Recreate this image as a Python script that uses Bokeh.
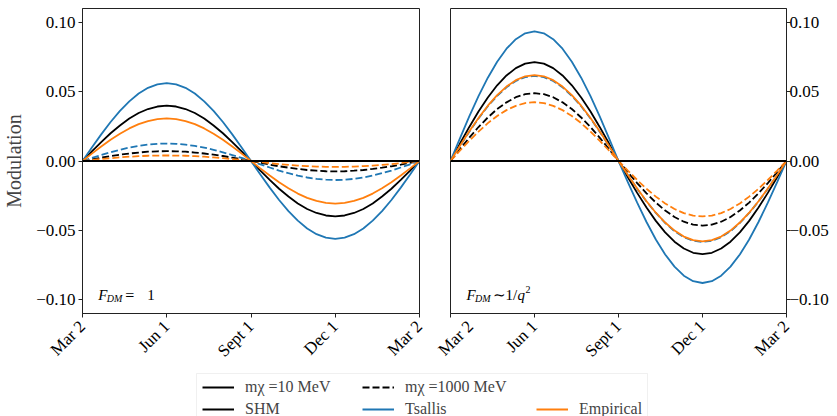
from bokeh.plotting import figure
from bokeh.models import (Range1d, FixedTicker, CustomJSTickFormatter, Span, Label,
                          Legend, LegendItem, BoxAnnotation)
from bokeh.layouts import column, row
from bokeh.embed import file_html
from bokeh.resources import INLINE

# ---------------- data ----------------
days = [0, 10.14, 20.28, 30.42, 40.56, 50.69, 60.83, 70.97, 81.11, 91.25, 101.39, 111.53,
        121.67, 131.81, 141.94, 152.08, 162.22, 172.36, 182.5, 192.64, 202.78, 212.92,
        223.06, 233.19, 243.33, 253.47, 263.61, 273.75, 283.89, 294.03, 304.17, 314.31,
        324.44, 334.58, 344.72, 354.86, 365]
tick_days = [0, 91.25, 182.5, 273.75, 365]
tick_labels = ["Mar 2", "Jun 1", "Sept 1", "Dec 1", "Mar 2"]
y_ticks = [-0.10, -0.05, 0.0, 0.05, 0.10]
zero_level = 0.0

# left panel: F_DM = 1
l_shm_10 = [0, 0.0069, 0.0136, 0.0200, 0.0256, 0.0306, 0.0346, 0.0375, 0.0393, 0.0399, 0.0393, 0.0375,
            0.0346, 0.0306, 0.0256, 0.0200, 0.0136, 0.0069, 0, -0.0069, -0.0136, -0.0200, -0.0256, -0.0306,
            -0.0346, -0.0375, -0.0393, -0.0399, -0.0393, -0.0375, -0.0346, -0.0306, -0.0256, -0.0200,
            -0.0136, -0.0069, 0]
l_tsa_10 = [0, 0.0098, 0.0192, 0.0281, 0.0361, 0.0430, 0.0487, 0.0528, 0.0553, 0.0562, 0.0553, 0.0528,
            0.0487, 0.0430, 0.0361, 0.0281, 0.0192, 0.0098, 0, -0.0098, -0.0192, -0.0281, -0.0361, -0.0430,
            -0.0487, -0.0528, -0.0553, -0.0562, -0.0553, -0.0528, -0.0487, -0.0430, -0.0361, -0.0281,
            -0.0192, -0.0098, 0]
l_emp_10 = [0, 0.0053, 0.0105, 0.0154, 0.0197, 0.0235, 0.0266, 0.0288, 0.0302, 0.0307, 0.0302, 0.0288,
            0.0266, 0.0235, 0.0197, 0.0154, 0.0105, 0.0053, 0, -0.0053, -0.0105, -0.0154, -0.0197, -0.0235,
            -0.0266, -0.0288, -0.0302, -0.0307, -0.0302, -0.0288, -0.0266, -0.0235, -0.0197, -0.0154,
            -0.0105, -0.0053, 0]
l_shm_1000 = [0, 0.0012, 0.0024, 0.0036, 0.0046, 0.0054, 0.0061, 0.0067, 0.0070, 0.0071, 0.0070, 0.0067,
              0.0061, 0.0054, 0.0046, 0.0036, 0.0024, 0.0012, 0, -0.0013, -0.0026, -0.0038, -0.0048, -0.0057,
              -0.0065, -0.0070, -0.0074, -0.0075, -0.0074, -0.0070, -0.0065, -0.0057, -0.0048, -0.0038,
              -0.0026, -0.0013, 0]
l_tsa_1000 = [0, 0.0022, 0.0043, 0.0063, 0.0081, 0.0097, 0.0109, 0.0118, 0.0124, 0.0126, 0.0124, 0.0118,
              0.0109, 0.0097, 0.0081, 0.0063, 0.0043, 0.0022, 0, -0.0024, -0.0047, -0.0069, -0.0088, -0.0105,
              -0.0119, -0.0129, -0.0135, -0.0137, -0.0135, -0.0129, -0.0119, -0.0105, -0.0088, -0.0069,
              -0.0047, -0.0024, 0]
l_emp_1000 = [0, 0.0007, 0.0014, 0.0020, 0.0026, 0.0031, 0.0035, 0.0038, 0.0039, 0.0040, 0.0039, 0.0038,
              0.0035, 0.0031, 0.0026, 0.0020, 0.0014, 0.0007, 0, -0.0007, -0.0015, -0.0022, -0.0028, -0.0033,
              -0.0037, -0.0040, -0.0042, -0.0043, -0.0042, -0.0040, -0.0037, -0.0033, -0.0028, -0.0022,
              -0.0015, -0.0007, 0]

# right panel: F_DM ~ 1/q^2
r_shm_10 = [0, 0.0124, 0.0244, 0.0357, 0.0458, 0.0546, 0.0617, 0.0670, 0.0702, 0.0713, 0.0702, 0.0670,
            0.0617, 0.0546, 0.0458, 0.0357, 0.0244, 0.0124, 0, -0.0117, -0.0230, -0.0336, -0.0432, -0.0515,
            -0.0582, -0.0631, -0.0662, -0.0672, -0.0662, -0.0631, -0.0582, -0.0515, -0.0432, -0.0336,
            -0.0230, -0.0117, 0]
r_tsa_10 = [0, 0.0162, 0.0320, 0.0468, 0.0601, 0.0716, 0.0810, 0.0879, 0.0921, 0.0935, 0.0921, 0.0879,
            0.0810, 0.0716, 0.0601, 0.0468, 0.0320, 0.0162, 0, -0.0153, -0.0301, -0.0440, -0.0566, -0.0674,
            -0.0762, -0.0827, -0.0867, -0.0880, -0.0867, -0.0827, -0.0762, -0.0674, -0.0566, -0.0440,
            -0.0301, -0.0153, 0]
r_emp_10 = [0, 0.0108, 0.0212, 0.0310, 0.0399, 0.0475, 0.0537, 0.0583, 0.0611, 0.0620, 0.0611, 0.0583,
            0.0537, 0.0475, 0.0399, 0.0310, 0.0212, 0.0108, 0, -0.0101, -0.0198, -0.0290, -0.0373, -0.0444,
            -0.0502, -0.0545, -0.0571, -0.0580, -0.0571, -0.0545, -0.0502, -0.0444, -0.0373, -0.0290,
            -0.0198, -0.0101, 0]
r_shm_1000 = [0, 0.0085, 0.0167, 0.0245, 0.0314, 0.0375, 0.0423, 0.0460, 0.0482, 0.0489, 0.0482, 0.0460,
              0.0423, 0.0375, 0.0314, 0.0245, 0.0167, 0.0085, 0, -0.0081, -0.0159, -0.0233, -0.0300, -0.0357,
              -0.0404, -0.0438, -0.0459, -0.0466, -0.0459, -0.0438, -0.0404, -0.0357, -0.0300, -0.0233,
              -0.0159, -0.0081, 0]
r_tsa_1000 = [0, 0.0107, 0.0210, 0.0307, 0.0395, 0.0470, 0.0532, 0.0577, 0.0605, 0.0614, 0.0605, 0.0577,
              0.0532, 0.0470, 0.0395, 0.0307, 0.0210, 0.0107, 0, -0.0101, -0.0200, -0.0292, -0.0375, -0.0447,
              -0.0506, -0.0549, -0.0575, -0.0584, -0.0575, -0.0549, -0.0506, -0.0447, -0.0375, -0.0292,
              -0.0200, -0.0101, 0]
r_emp_1000 = [0, 0.0074, 0.0145, 0.0212, 0.0273, 0.0325, 0.0367, 0.0398, 0.0418, 0.0424, 0.0418, 0.0398,
              0.0367, 0.0325, 0.0273, 0.0212, 0.0145, 0.0074, 0, -0.0069, -0.0137, -0.0200, -0.0257, -0.0306,
              -0.0346, -0.0376, -0.0394, -0.0400, -0.0394, -0.0376, -0.0346, -0.0306, -0.0257, -0.0200,
              -0.0137, -0.0069, 0]

models = ["SHM", "Tsallis", "Empirical"]
mass_labels = ["m\u03c7 =10 MeV", "m\u03c7 =1000 MeV"]

# ---------------- style ----------------
FONT = "Liberation Serif"
COLORS = {"SHM": "black", "Tsallis": "#1f77b4", "Empirical": "#ff7f0e"}
LW = 1.8
DASH = "7 3"


def make_panel(solid, dashed, y_side, left_border, right_border):
    p = figure(frame_width=337 if y_side == "left" else 336, frame_height=305,
               x_range=Range1d(0, 365), y_range=Range1d(-0.11, 0.11),
               y_axis_location=y_side, toolbar_location=None, output_backend="svg",
               min_border_left=left_border, min_border_right=right_border,
               min_border_top=8, min_border_bottom=52)
    p.grid.visible = False
    p.outline_line_color = "#222222"
    p.outline_line_width = 1
    p.background_fill_color = "white"
    p.border_fill_color = "white"

    p.xaxis.ticker = FixedTicker(ticks=tick_days)
    p.xaxis.formatter = CustomJSTickFormatter(
        args=dict(pos=tick_days, labs=tick_labels),
        code="for (let i = 0; i < pos.length; i++) { if (Math.abs(pos[i] - tick) < 1e-6) return labs[i]; } return '';")
    p.xaxis.major_label_orientation = 0.785398
    p.yaxis.ticker = FixedTicker(ticks=y_ticks)
    p.yaxis.formatter = CustomJSTickFormatter(
        code="return (tick < -1e-9 ? '\\u2212' : '') + Math.abs(tick).toFixed(2);")
    for ax in p.axis:
        ax.major_label_text_font = FONT
        ax.major_label_text_font_size = "17px"
        ax.major_label_text_color = "black"
        ax.major_tick_out = 4
        ax.major_tick_in = 0
        ax.minor_tick_out = 0
        ax.minor_tick_in = 0
        ax.major_tick_line_color = "#222222"
        ax.axis_line_color = "#222222"
        ax.major_label_standoff = 3
    p.xaxis.major_label_standoff = 6
    if y_side == "right":
        p.yaxis.major_label_standoff = -1

    for m in models:
        p.line(days, dashed[m], line_color=COLORS[m], line_width=LW, line_dash=DASH)
    for m in models:
        p.line(days, solid[m], line_color=COLORS[m], line_width=LW)
    p.add_layout(Span(location=zero_level, dimension="width", line_color="black", line_width=LW))
    return p


p1 = make_panel({"SHM": l_shm_10, "Tsallis": l_tsa_10, "Empirical": l_emp_10},
                {"SHM": l_shm_1000, "Tsallis": l_tsa_1000, "Empirical": l_emp_1000},
                "left", 81, 15)
p1.yaxis.axis_label = "Modulation"
p1.yaxis.axis_label_text_font = FONT
p1.yaxis.axis_label_text_font_size = "20px"
p1.yaxis.axis_label_text_font_style = "normal"
p1.yaxis.axis_label_standoff = 8

p2 = make_panel({"SHM": r_shm_10, "Tsallis": r_tsa_10, "Empirical": r_emp_10},
                {"SHM": r_shm_1000, "Tsallis": r_tsa_1000, "Empirical": r_emp_1000},
                "right", 16, 52)


def add_text(p, x, y, text, dx=0, dy=0, size="15px", style="normal"):
    p.add_layout(Label(x=x, y=y, text=text, x_offset=dx, y_offset=dy,
                       text_font=FONT, text_font_size=size, text_font_style=style,
                       text_color="black", text_baseline="alphabetic"))


# annotations
add_text(p1, 17.0, -0.0968, "F", style="italic")
add_text(p1, 17.0, -0.0968, "DM", dx=8.5, dy=-3, size="10px", style="italic")
add_text(p1, 17.0, -0.0968, "=", dx=27, size="16px")
add_text(p1, 17.0, -0.0968, "1", dx=49)

add_text(p2, 17.5, -0.0968, "F", style="italic")
add_text(p2, 17.5, -0.0968, "DM", dx=8.5, dy=-3, size="10px", style="italic")
add_text(p2, 17.5, -0.0968, "\u223c", dx=26)
add_text(p2, 17.5, -0.0968, "1/", dx=39)
add_text(p2, 17.5, -0.0968, "q", dx=51, style="italic")
add_text(p2, 17.5, -0.0968, "2", dx=59, dy=6, size="10px")

# legend strip (frame = whole strip, data units = pixels)
p3 = figure(width=837, height=51, x_range=Range1d(0, 837), y_range=Range1d(0, 51),
            x_axis_location=None, y_axis_location=None,
            toolbar_location=None, output_backend="svg", min_border=0)
p3.grid.visible = False
p3.outline_line_color = None
p3.add_layout(BoxAnnotation(left=196, right=647, top=48, bottom=-10,
                            fill_color="white", fill_alpha=1,
                            line_color="#cccccc", line_width=1))

off_x, off_y = [-20, -10], [-20, -10]   # off-canvas: legend swatches only
r_m10 = p3.line(off_x, off_y, line_color="black", line_width=LW)
r_m1000 = p3.line(off_x, off_y, line_color="black", line_width=LW, line_dash=DASH)
r_models = [p3.line(off_x, off_y, line_color=COLORS[m], line_width=LW) for m in models]

leg_style = dict(label_text_font=FONT, label_text_font_size="16px",
                 glyph_width=32, glyph_height=20, label_height=20, label_standoff=11,
                 spacing=2, padding=0, margin=0, border_line_color=None,
                 background_fill_alpha=0)
columns_items = [
    ([LegendItem(label=mass_labels[0], renderers=[r_m10]),
      LegendItem(label=models[0], renderers=[r_models[0]])], (202, 2)),
    ([LegendItem(label=mass_labels[1], renderers=[r_m1000]),
      LegendItem(label=models[1], renderers=[r_models[1]])], (362, 2)),
    ([LegendItem(label=models[2], renderers=[r_models[2]])], (536, 2)),
]
for its, loc in columns_items:
    p3.add_layout(Legend(items=its, location=loc, orientation="vertical", **leg_style))

layout = column(row(p1, p2), p3)
open("out.html", "w").write(file_html(layout, INLINE))
